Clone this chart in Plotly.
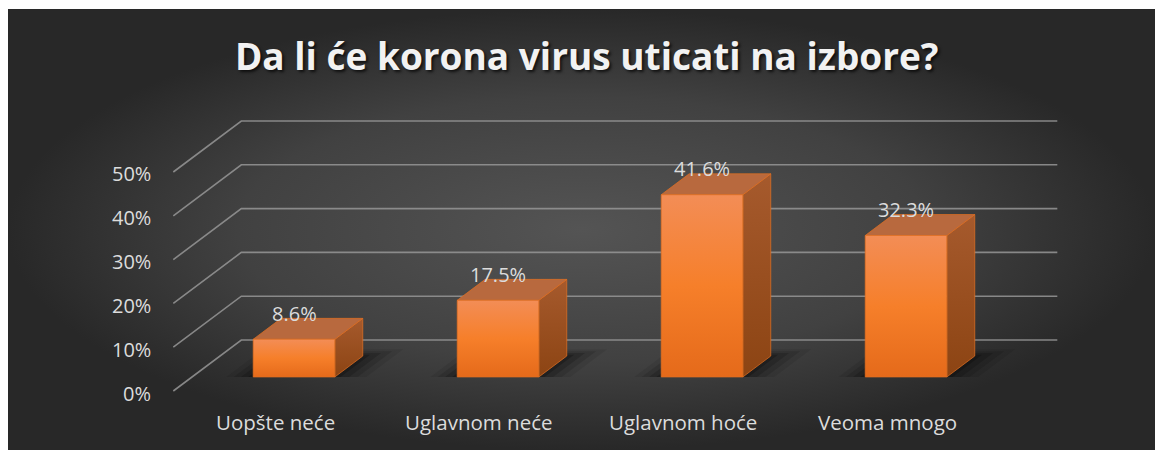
import plotly.graph_objects as go

# Survey answers and shares (percent)
categories = ["Uopšte neće", "Uglavnom neće", "Uglavnom hoće", "Veoma mnogo"]
values = [8.6, 17.5, 41.6, 32.3]
value_labels = ["8.6%", "17.5%", "41.6%", "32.3%"]
tick_values = [0, 10, 20, 30, 40, 50]
tick_labels = ["0%", "10%", "20%", "30%", "40%", "50%"]
title_text = "Da li će korona virus uticati na izbore?"

# Oblique 3D projection: depth d (0 = front, 1 = back wall) shifts points
# right (in category units) and up (in percent units).
DEPTH_DX = 1 / 3
DEPTH_DY = 11.64
BAR_HALF = 0.2          # half of the bar width in category units
BAR_FRONT, BAR_BACK = 0.275, 0.686
WALL_LEFT, WALL_RIGHT = -0.5, 3.5

X_RANGE = [-1.3103, 4.3122]
Y_RANGE = [-13.47, 87.21]

TEXT = "#dcdcdc"
GRID = "rgba(150,150,150,0.85)"


def proj(c, v, d):
    return c + d * DEPTH_DX, v + d * DEPTH_DY


def poly(points):
    xs, ys = zip(*[proj(*p) for p in points])
    return list(xs) + [xs[0]], list(ys) + [ys[0]]


fig = go.Figure()

# Panel background with a soft radial light
bx = [X_RANGE[0], X_RANGE[1], X_RANGE[1], X_RANGE[0], X_RANGE[0]]
by = [Y_RANGE[0], Y_RANGE[0], Y_RANGE[1], Y_RANGE[1], Y_RANGE[0]]
fig.add_trace(go.Scatter(
    x=bx, y=by, mode="lines", fill="toself", line=dict(width=0),
    fillgradient=dict(type="radial",
                      colorscale=[[0, "#545454"], [0.6, "#414141"], [1, "#282828"]]),
    hoverinfo="skip", showlegend=False))

# Back wall and left wall gridlines
for v in tick_values:
    xs, ys = zip(proj(WALL_LEFT, v, 0), proj(WALL_LEFT, v, 1), proj(WALL_RIGHT, v, 1))
    fig.add_trace(go.Scatter(x=xs, y=ys, mode="lines",
                             line=dict(color=GRID, width=1.6),
                             hoverinfo="skip", showlegend=False))

# Soft floor shadows behind each bar
for i, v in enumerate(values):
    for k, op in [(0.11, 0.08), (0.08, 0.12), (0.05, 0.16), (0.02, 0.22)]:
        c0, c1 = i - BAR_HALF - k * 1.2, i + BAR_HALF + k * 1.4
        d0, d1 = BAR_FRONT, BAR_BACK + k * 1.2
        xs, ys = poly([(c0, 0, d0), (c1, 0, d0), (c1, 0, d1), (c0, 0, d1)])
        fig.add_trace(go.Scatter(x=xs, y=ys, mode="lines", fill="toself",
                                 line=dict(width=0),
                                 fillcolor=f"rgba(0,0,0,{op})",
                                 hoverinfo="skip", showlegend=False))

# Bars: right side, top and front faces
EDGE = dict(color="rgba(226,112,34,0.9)", width=0.8)
for i, v in enumerate(values):
    c0, c1 = i - BAR_HALF, i + BAR_HALF
    d0, d1 = BAR_FRONT, BAR_BACK
    xs, ys = poly([(c1, 0, d0), (c1, 0, d1), (c1, v, d1), (c1, v, d0)])
    fig.add_trace(go.Scatter(
        x=xs, y=ys, mode="lines", fill="toself", line=EDGE,
        fillgradient=dict(type="vertical",
                          colorscale=[[0, "#8c4413"], [1, "#a65a2d"]]),
        hoverinfo="skip", showlegend=False))
    xs, ys = poly([(c0, v, d0), (c1, v, d0), (c1, v, d1), (c0, v, d1)])
    fig.add_trace(go.Scatter(
        x=xs, y=ys, mode="lines", fill="toself", line=EDGE,
        fillcolor="#b8693e", hoverinfo="skip", showlegend=False))
    xs, ys = poly([(c0, 0, d0), (c1, 0, d0), (c1, v, d0), (c0, v, d0)])
    fig.add_trace(go.Scatter(
        x=xs, y=ys, mode="lines", fill="toself", line=EDGE,
        fillgradient=dict(type="vertical",
                          colorscale=[[0, "#e56a1a"], [0.5, "#f67f2a"], [1, "#f38d56"]]),
        hovertemplate=f"{categories[i]}: {value_labels[i]}<extra></extra>",
        showlegend=False))

annotations = []
# Value labels above the bars
for i, v in enumerate(values):
    x, y = proj(i, v, BAR_FRONT)
    annotations.append(dict(x=x, y=y, text=value_labels[i], showarrow=False,
                            xanchor="center", yanchor="middle", yshift=26,
                            font=dict(family="Open Sans", size=20, color=TEXT)))
# Percent axis labels at the front edge of the left wall
for v, t in zip(tick_values, tick_labels):
    x, y = proj(WALL_LEFT, v, 0)
    annotations.append(dict(x=x, y=y, text=t, showarrow=False,
                            xanchor="right", yanchor="middle", xshift=-20, yshift=-2,
                            font=dict(family="Open Sans", size=20, color=TEXT)))
# Category labels along the front floor edge
for i, name in enumerate(categories):
    x, y = proj(i, 0, 0)
    annotations.append(dict(x=x, y=y, text=name, showarrow=False,
                            xanchor="center", yanchor="middle", yshift=-31,
                            font=dict(family="Open Sans", size=20.5, color=TEXT)))

fig.update_layout(
    width=1155, height=450,
    margin=dict(l=8, r=0, t=9, b=0),
    paper_bgcolor="white", plot_bgcolor="#2c2c2c",
    title=dict(text=title_text, x=0.508, xanchor="center", xref="container",
               y=1 - 57 / 450, yanchor="middle", yref="container",
               font=dict(family="Open Sans", size=37, weight="bold", color="#f2f2f2",
                         shadow="2px 2px 3px rgba(0,0,0,0.7)")),
    xaxis=dict(range=X_RANGE, visible=False, fixedrange=True),
    yaxis=dict(range=Y_RANGE, visible=False, fixedrange=True),
    annotations=annotations,
    showlegend=False,
)

fig.write_html("out.html")
